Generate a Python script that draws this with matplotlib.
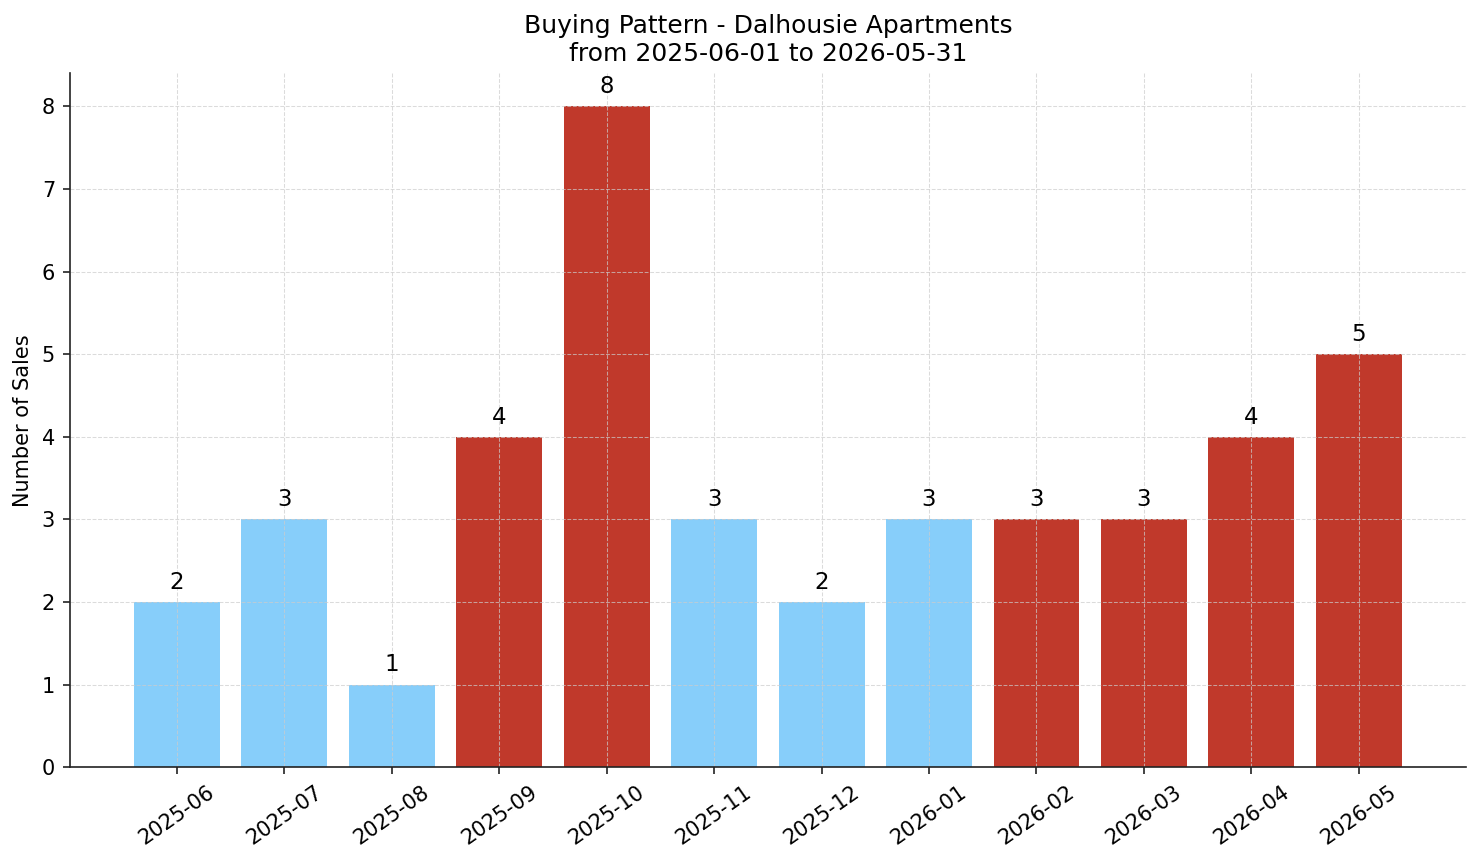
import matplotlib
matplotlib.use("Agg")
import matplotlib.pyplot as plt
import numpy as np

# monthly sales counts
months = ["2025-06", "2025-07", "2025-08", "2025-09", "2025-10", "2025-11",
          "2025-12", "2026-01", "2026-02", "2026-03", "2026-04", "2026-05"]
sales = [2, 3, 1, 4, 8, 3, 2, 3, 3, 3, 4, 5]
highlight = [False, False, False, True, True, False,
             False, False, True, True, True, True]

BLUE = "#87CEFA"
RED = "#C0392B"

fig, ax = plt.subplots(figsize=(1481 / 150, 863 / 150), dpi=150)

x = np.arange(len(months))
colors = [RED if h else BLUE for h in highlight]
bars = ax.bar(x, sales, width=0.8, color=colors)

for b, v in zip(bars, sales):
    ax.text(b.get_x() + b.get_width() / 2, v + 0.1, str(v),
            ha="center", va="bottom", fontsize=11)

ax.set_xticks(x)
ax.set_xticklabels(months, rotation=35, fontsize=10)
ax.tick_params(axis="y", labelsize=10)
ax.tick_params(colors="#222222", labelcolor="black")
ax.set_xlim(-1, len(months))
ax.set_ylim(0, max(sales) * 1.05)
ax.set_ylabel("Number of Sales", fontsize=10)
ax.set_title("Buying Pattern - Dalhousie Apartments\nfrom 2025-06-01 to 2026-05-31",
             fontsize=12)

ax.grid(True, linestyle="--", color="#cccccc", alpha=0.7, linewidth=0.5)
ax.spines["top"].set_visible(False)
ax.spines["right"].set_visible(False)
for s in ("left", "bottom"):
    ax.spines[s].set_color("#222222")

fig.subplots_adjust(left=0.047, right=0.99, top=0.915, bottom=0.111)
fig.savefig("out.png", dpi=150)
